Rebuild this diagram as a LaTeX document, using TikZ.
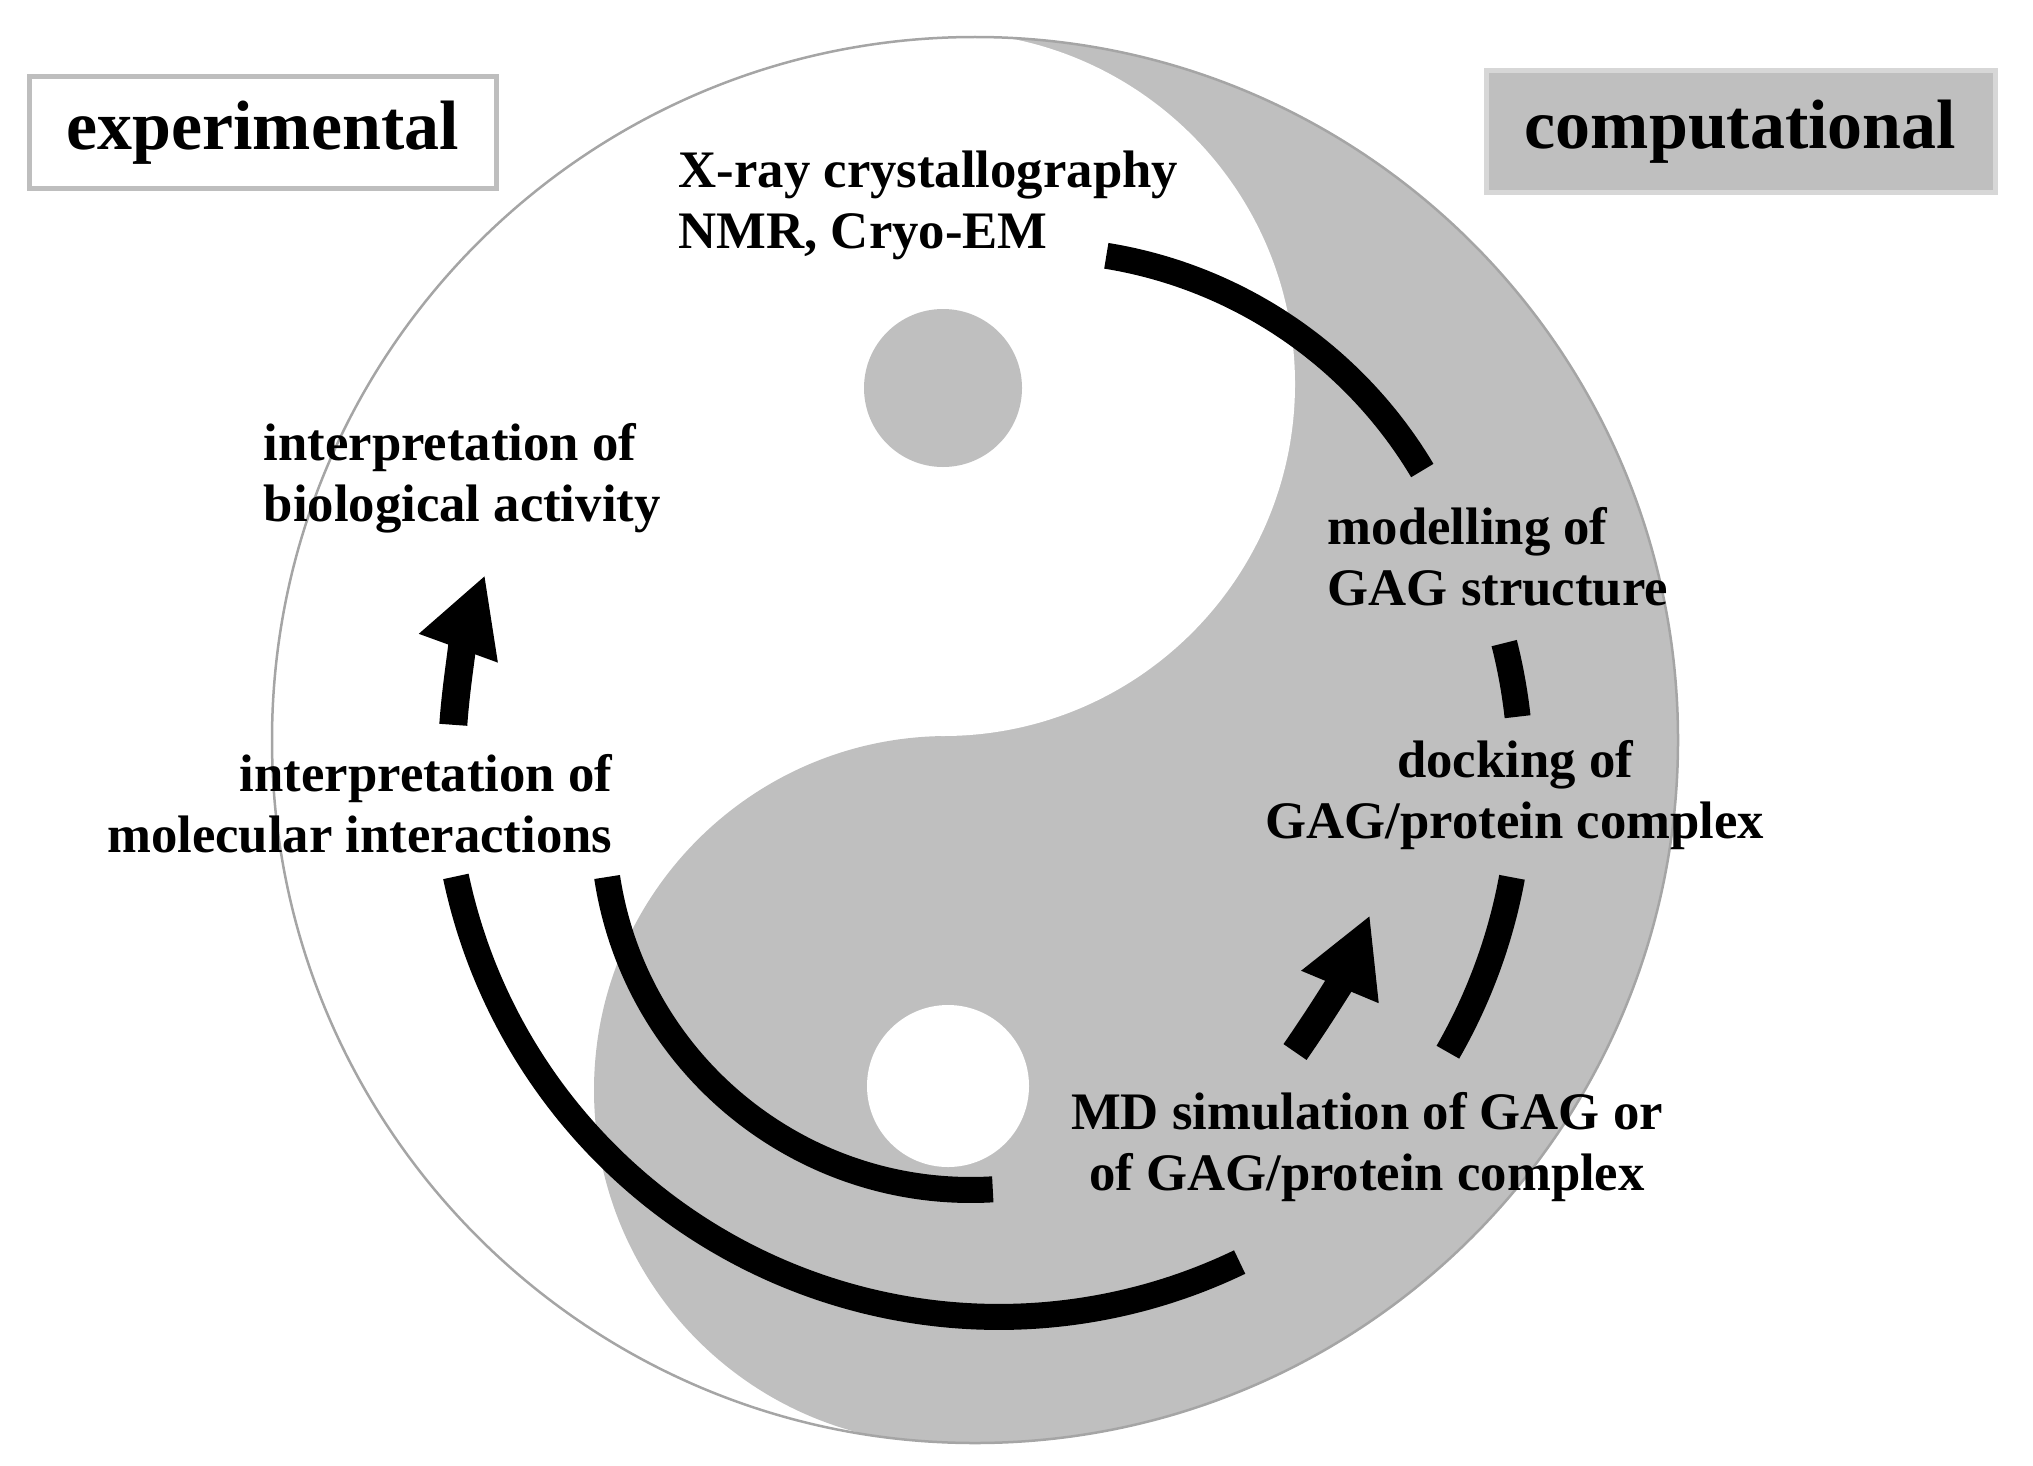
\documentclass[tikz,border=0pt]{standalone}
\usepackage{fontspec}
\setmainfont{Liberation Serif}
\usepackage{tikz}
\usetikzlibrary{arrows.meta}
\definecolor{ColYin}{RGB}{191,191,191}
\definecolor{ColRim}{RGB}{165,165,165}
\definecolor{ColFrame}{RGB}{190,190,190}
\definecolor{ColFrameB}{RGB}{215,215,215}
\tikzstyle{StepText}=[inner sep=0pt,font=\fontsize{15}{17.3}\selectfont\bfseries]
\tikzstyle{SideBox}=[inner sep=0pt,line width=0.05cm,font=\fontsize{19.9}{22}\selectfont\bfseries]
\tikzstyle{RimLine}=[ColRim,line width=0.025cm]
\tikzstyle{FlowArc}=[black,line width=0.26cm]
\tikzstyle{FlowArrow}=[black,line width=0.28cm,-{Triangle[length=0.78cm,width=0.78cm]}]

\begin{document}
\begin{tikzpicture}
\useasboundingbox(0,0)rectangle(20.33,14.65);
\coordinate(C)at(9.75,7.25);
\coordinate(U)at(9.43,10.81);
\coordinate(L)at(9.48,3.75);
\begin{scope}
\clip(C)circle(7.03);
\fill[ColYin](9.45,0)rectangle(17,14.65);
\fill[ColYin](L)circle(3.54);
\fill[white](U)circle(3.52);
\end{scope}
\fill[ColYin](9.43,10.77)circle(0.79);
\fill[white](9.48,3.79)circle(0.81);
\draw[RimLine](C)circle(7.03);
\node[SideBox,draw=ColFrame,fill=white,minimum width=4.67cm,minimum height=1.11cm](exp)at(2.625,13.325){experimental};
\node[SideBox,draw=ColFrameB,fill=ColYin,minimum width=5.09cm,minimum height=1.21cm](comp)at(17.405,13.335){computational};
\node[StepText,anchor=west,align=left](xray)at(6.78,12.60){X-ray crystallography\\NMR, Cryo-EM};
\node[StepText,anchor=west,align=left](bio)at(2.63,9.865){interpretation of\\biological activity};
\node[StepText,anchor=east,align=right](mol)at(6.13,6.61){interpretation of\\molecular interactions};
\node[StepText,anchor=west,align=left](model)at(13.27,9.085){modelling of\\GAG structure};
\node[StepText,align=center](dock)at(15.15,6.70){docking of\\GAG/protein complex};
\node[StepText,align=center](md)at(13.67,3.18){MD simulation of GAG or\\of GAG/protein complex};
\coordinate(ta)at(11.063,12.092);
\coordinate(ra)at(15.042,8.219);
\coordinate(rb)at(15.120,5.877);
\coordinate(oa)at(4.559,5.886);
\coordinate(ia)at(6.071,5.880);
\coordinate(la)at(4.533,7.402);
\coordinate(mdtail)at(12.95,4.13);
\coordinate(mdtip)at(13.70,5.50);
\draw[FlowArc](ta)arc[start angle=80.8,end angle=30.8,radius=4.52];
\draw[FlowArc](ra)arc[start angle=14.2,end angle=6.4,radius=5.50];
\draw[FlowArc](rb)arc[start angle=-10.4,end angle=-29.9,radius=5.50];
\draw[FlowArc](oa)arc[start angle=191.9,end angle=295.7,radius=5.55];
\draw[FlowArc](ia)arc[start angle=188.6,end angle=273.4,radius=3.68];
\draw[FlowArrow](la)arc[start angle=176.1,end angle=160,radius=5.47];
\draw[FlowArrow](mdtail)to[bend right=6](mdtip);
\end{tikzpicture}
\end{document}
